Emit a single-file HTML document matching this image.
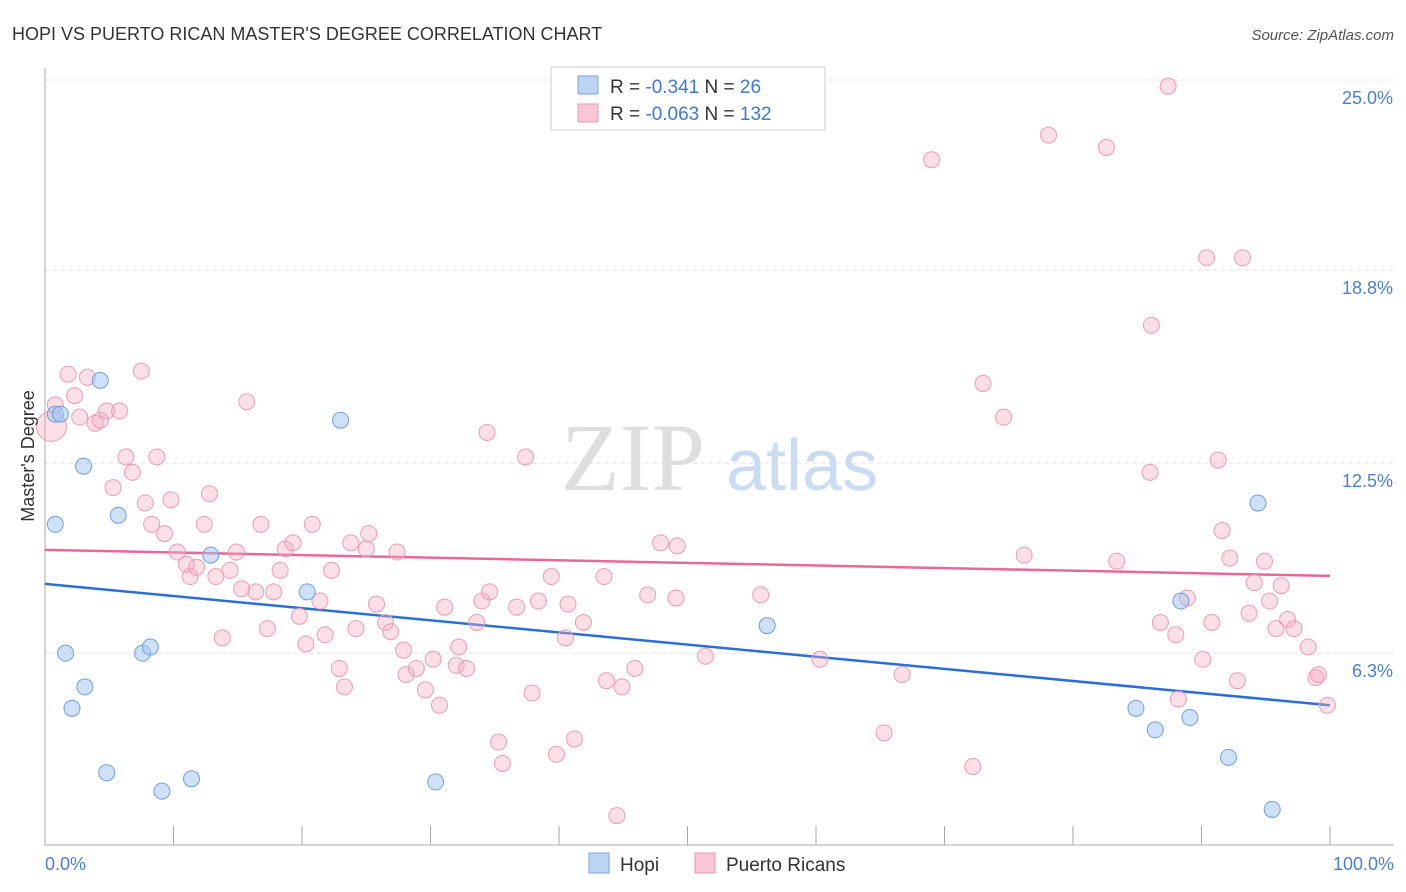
<!DOCTYPE html>
<html><head><meta charset="utf-8"><style>
body{margin:0;background:#fff;font-family:"Liberation Sans",sans-serif;}
svg{display:block}
</style></head><body>
<svg id="chart" width="1406" height="892">
<text x="12" y="40" font-size="18" fill="#333">HOPI VS PUERTO RICAN MASTER'S DEGREE CORRELATION CHART</text>
<text x="1394" y="40" font-size="15" fill="#555" font-style="italic" text-anchor="end">Source: ZipAtlas.com</text>
<g>
<text x="633" y="490" font-size="96" font-family="Liberation Serif,serif" fill="#dedede" text-anchor="middle">ZIP</text>
<text x="802" y="490" font-size="72" fill="#c9dcf3" text-anchor="middle">atlas</text>
</g>
<g id="grid"></g>
<g id="axes"></g>
<g id="trend"></g>
<g id="pts"></g>
<text transform="translate(34,456) rotate(-90)" font-size="18" fill="#333" text-anchor="middle">Master's Degree</text>
<text x="45" y="870" font-size="18" fill="#4a7fd6">0.0%</text>
<text x="1394" y="870" font-size="18" fill="#4a7fd6" text-anchor="end">100.0%</text>
<g>
<rect x="551" y="67" width="274" height="63" fill="#fff" stroke="#ccc"/>
<rect x="578" y="76" width="20" height="18" fill="#bcd4f4" stroke="#7aa6e0"/>
<rect x="578" y="104" width="20" height="18" fill="#f8c6d4" stroke="#e898b0"/>
<text x="610" y="93" font-size="19" fill="#333">R = <tspan fill="#3d78d8">-0.341</tspan>    N = <tspan fill="#3d78d8"> 26</tspan></text>
<text x="610" y="120" font-size="19" fill="#333">R = <tspan fill="#3d78d8">-0.063</tspan>    N = <tspan fill="#3d78d8">132</tspan></text>
</g>
<g>
<rect x="589" y="853" width="20" height="20" fill="#bcd4f4" stroke="#7aa6e0"/>
<text x="620" y="871" font-size="19" fill="#333">Hopi</text>
<rect x="695" y="853" width="20" height="20" fill="#f8c6d4" stroke="#e898b0"/>
<text x="726" y="871" font-size="19" fill="#333">Puerto Ricans</text>
</g>
</svg>
<script>
const yTicks=[25.0,18.8,12.5,6.3];
const yTickLabels=["25.0%","18.8%","12.5%","6.3%"];
const xTicks=[0,10,20,30,40,50,60,70,80,90,100];
const hopiX=[0.8,1.2,4.3,3.0,0.8,5.7,1.6,7.6,8.2,12.9,3.1,2.1,4.8,9.1,11.4,20.4,23.0,30.4,56.2,88.4,84.9,86.4,89.1,94.4,92.1,95.5];
const hopiY=[14.1,14.1,15.2,12.4,10.5,10.8,6.3,6.3,6.5,9.5,5.2,4.5,2.4,1.8,2.2,8.3,13.9,2.1,7.2,8.0,4.5,3.8,4.2,11.2,2.9,1.2];
const prX=[0.5,0.8,1.8,2.3,3.3,2.7,3.9,4.3,4.8,5.8,7.5,6.3,6.8,5.3,7.8,8.3,9.8,9.3,8.7,12.8,12.4,10.3,11.0,11.3,11.8,13.3,14.4,14.9,15.3,15.7,16.8,13.8,16.4,17.3,17.8,18.3,18.7,19.3,19.8,20.8,20.3,21.4,21.8,22.3,22.9,23.3,23.8,24.2,25.0,25.2,25.8,26.5,26.9,27.4,27.9,28.1,28.9,29.6,30.2,30.7,31.1,32.0,32.2,32.8,33.6,34.0,34.6,34.4,35.3,35.6,36.7,37.4,37.9,38.4,39.4,39.8,40.5,40.7,41.2,41.9,43.5,43.7,44.5,44.9,45.9,46.9,47.9,49.1,49.2,51.4,55.7,60.3,65.3,66.7,69.0,72.2,73.0,74.6,76.2,78.1,82.6,83.4,86.0,86.1,86.8,87.4,88.0,88.2,88.9,90.1,90.4,90.8,91.3,91.6,92.2,92.8,93.2,93.7,94.1,94.9,95.3,95.8,96.2,96.7,97.2,98.3,98.9,99.1,99.8];
const prY=[13.7,14.4,15.4,14.7,15.3,14.0,13.8,13.9,14.2,14.2,15.5,12.7,12.2,11.7,11.2,10.5,11.3,10.2,12.7,11.5,10.5,9.6,9.2,8.8,9.1,8.8,9.0,9.6,8.4,14.5,10.5,6.8,8.3,7.1,8.3,9.0,9.7,9.9,7.5,10.5,6.6,8.0,6.9,9.0,5.8,5.2,9.9,7.1,9.7,10.2,7.9,7.3,7.0,9.6,6.4,5.6,5.8,5.1,6.1,4.6,7.8,5.9,6.5,5.8,7.3,8.0,8.3,13.5,3.4,2.7,7.8,12.7,5.0,8.0,8.8,3.0,6.8,7.9,3.5,7.3,8.8,5.4,1.0,5.2,5.8,8.2,9.9,8.1,9.8,6.2,8.2,6.1,3.7,5.6,22.4,2.6,15.1,14.0,9.5,23.2,22.8,9.3,12.2,17.0,7.3,24.8,6.9,4.8,8.1,6.1,19.2,7.3,12.6,10.3,9.4,5.4,19.2,7.6,8.6,9.3,8.0,7.1,8.5,7.4,7.1,6.5,5.5,5.6,4.6];
const hopiTrend=[8.56,4.6];
const prTrend=[9.67,8.82];
const NS="http://www.w3.org/2000/svg";
const X0=45,X1=1330;
function sx(v){return X0+(X1-X0)*v/100;}
function sy(v){return 80+(25-v)*30.65;}
function mk(tag,attrs,parent){const e=document.createElementNS(NS,tag);for(const k in attrs)e.setAttribute(k,attrs[k]);parent.appendChild(e);return e;}
const grid=document.getElementById('grid'),axes=document.getElementById('axes'),trend=document.getElementById('trend'),pts=document.getElementById('pts');
yTicks.forEach((t,i)=>{
 const l=mk('line',{x1:45,x2:1394,y1:sy(t),y2:sy(t),stroke:'#ddd','stroke-dasharray':'4,4'},grid);
 
 
 const tx=mk('text',{x:1393,y:sy(t)+24,'font-size':18,fill:'#4a7fd6','text-anchor':'end'},grid);
 tx.textContent=yTickLabels[i];
 
 
});
const ya=mk('line',{x1:45,x2:45,y1:68,y2:845,stroke:'#aaa'},axes);


const xa=mk('line',{x1:45,x2:1394,y1:845,y2:845,stroke:'#aaa'},axes);


xTicks.forEach(t=>{
 const l=mk('line',{x1:sx(t),x2:sx(t),y1:826,y2:845,stroke:'#aaa'},axes);
 
 
});
prX.forEach((x,i)=>{
 const c=mk('circle',{cx:sx(x),cy:sy(prY[i]),r:i===0?15:8,fill:'rgba(244,170,192,0.38)',stroke:'#eb9bb4','stroke-width':1},pts);
 
 
});
hopiX.forEach((x,i)=>{
 const c=mk('circle',{cx:sx(x),cy:sy(hopiY[i]),r:8,fill:'rgba(160,195,240,0.5)',stroke:'#6f9fe0','stroke-width':1},pts);
 
 
});
const tp=mk('line',{x1:sx(0),x2:sx(100),y1:sy(prTrend[0]),y2:sy(prTrend[1]),stroke:'#e8689a','stroke-width':2.5},trend);


const th=mk('line',{x1:sx(0),x2:sx(100),y1:sy(hopiTrend[0]),y2:sy(hopiTrend[1]),stroke:'#2a6fd8','stroke-width':2.5},trend);


</script>
</body></html>
